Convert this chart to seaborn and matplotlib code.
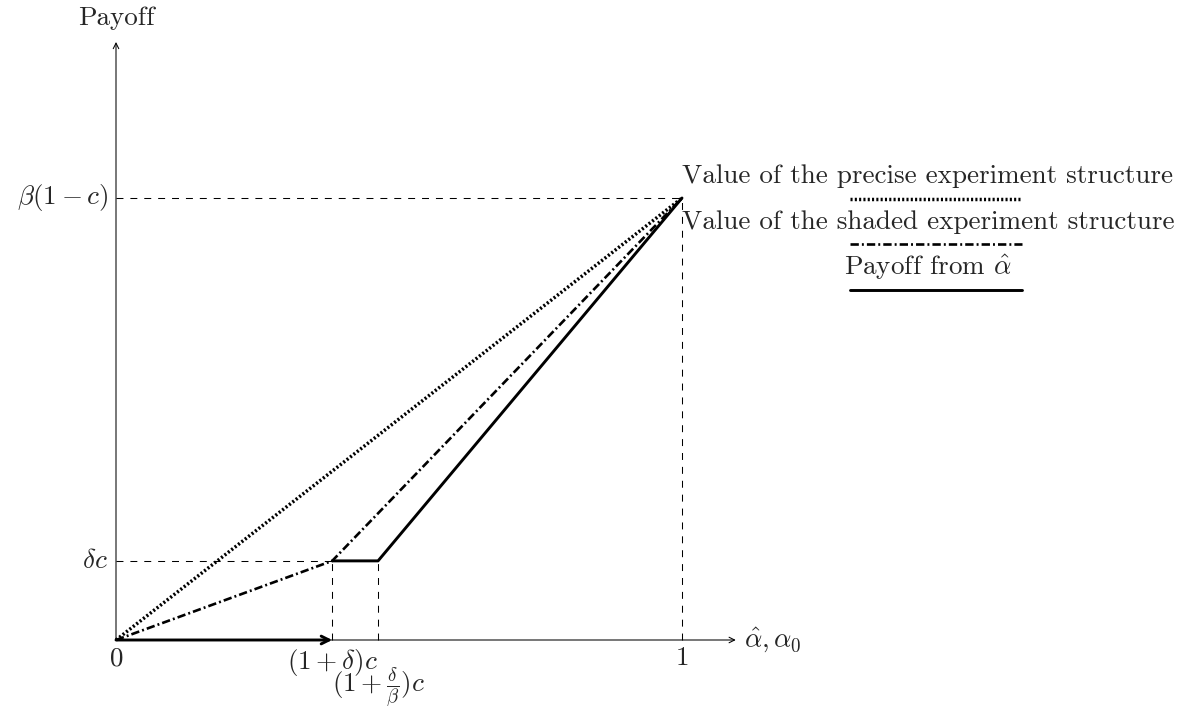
import matplotlib
matplotlib.use("Agg")
import matplotlib.pyplot as plt
import seaborn as sns
import pandas as pd

sns.set_style("white")
plt.rcParams["font.family"] = ["cmr10", "DejaVu Serif"]
plt.rcParams["mathtext.fontset"] = "cm"
plt.rcParams["axes.formatter.use_mathtext"] = True
plt.rcParams["lines.scale_dashes"] = False

# key abscissae / ordinates (normalised: alpha = 1 at right, beta(1-c) = 1 at top)
x_marks = [0.0, 0.382, 0.463, 1.0]
x_labels = ["$0$", "$(1+\\delta)c$", "$(1+\\frac{\\delta}{\\beta})c$", "$1$"]
y_marks = [0.179, 1.0]
y_labels = ["$\\delta c$", "$\\beta(1-c)$"]

# series
precise_x = [0.0, 1.0]
precise_y = [0.0, 1.0]
shaded_x = [0.0, 0.382, 1.0]
shaded_y = [0.0, 0.179, 1.0]
payoff_x = [0.382, 0.463, 1.0]
payoff_y = [0.179, 0.179, 1.0]
payoff_zero_x = [0.0, 0.382]
payoff_zero_y = [0.0, 0.0]

legend_labels = ["Value of the precise experiment structure",
                 "Value of the shaded experiment structure",
                 "Payoff from $\\hat{\\alpha}$"]

W, H = 1187, 706
fig = plt.figure(figsize=(W / 100, H / 100), dpi=100)
ax = fig.add_axes([0, 0, 1, 1])
ox, oy, sx, sy = 116, 640, 566, 442
ax.set_xlim(-ox / sx, (W - ox) / sx)
ax.set_ylim(-(H - oy) / sy, oy / sy)
ax.axis("off")

thin = 0.75
thick = 2.1
k = "black"

# axes with arrows
ax.annotate("", xy=(1.095, 0), xytext=(0, 0),
            arrowprops=dict(arrowstyle="->", lw=thin, color=k, shrinkA=0, shrinkB=0))
ax.annotate("", xy=(0, 1.353), xytext=(0, 0),
            arrowprops=dict(arrowstyle="->", lw=thin, color=k, shrinkA=0, shrinkB=0))

# dashed guides
guide = dict(color=k, lw=thin, dashes=(5, 5))
ax.plot([0, x_marks[3]], [y_marks[1]] * 2, **guide)
ax.plot([0, x_marks[1]], [y_marks[0]] * 2, **guide)
ax.plot([x_marks[1]] * 2, [0, y_marks[0]], **guide)
ax.plot([x_marks[2]] * 2, [0, y_marks[0]], **guide)
ax.plot([x_marks[3]] * 2, [0, y_marks[1]], **guide)

# curves
dotted = (1.5, 1.6)
dashdot = (6, 2.2, 1.4, 2.2)
dot_lw, dd_lw = 2.5, 1.9
sns.lineplot(data=pd.DataFrame({"x": precise_x, "y": precise_y}), x="x", y="y",
             ax=ax, color=k, lw=dot_lw, linestyle=(0, dotted), sort=False)
sns.lineplot(data=pd.DataFrame({"x": shaded_x, "y": shaded_y}), x="x", y="y",
             ax=ax, color=k, lw=dd_lw, linestyle=(0, dashdot), sort=False)
sns.lineplot(data=pd.DataFrame({"x": payoff_x, "y": payoff_y}), x="x", y="y",
             ax=ax, color=k, lw=thick, sort=False)
ax.annotate("", xy=(payoff_zero_x[1], payoff_zero_y[1]),
            xytext=(payoff_zero_x[0], payoff_zero_y[0]),
            arrowprops=dict(arrowstyle="->", lw=thick, color=k, shrinkA=0, shrinkB=0,
                            mutation_scale=14))

fs = 19.5
# tick labels
ax.text(x_marks[0], -0.015, x_labels[0], ha="center", va="top", fontsize=fs)
ax.text(x_marks[1], -0.015, x_labels[1], ha="center", va="top", fontsize=fs)
ax.text(x_marks[2], -0.059, x_labels[2], ha="center", va="top", fontsize=fs)
ax.text(x_marks[3], -0.015, x_labels[3], ha="center", va="top", fontsize=fs)
ax.text(-0.014, y_marks[0], y_labels[0], ha="right", va="center", fontsize=fs)
ax.text(-0.014, y_marks[1], y_labels[1], ha="right", va="center", fontsize=fs)
ax.text(1.11, 0, "$\\hat{\\alpha}, \\alpha_0$", ha="left", va="center", fontsize=fs)
ax.text(0, 1.38, "Payoff", ha="center", va="bottom", fontsize=fs)

# legend drawn as label-over-line entries
tf = fig.transFigure
lx0, lx1 = 850 / W, 1022 / W
entries = [(176, 199, dict(linestyle=(0, dotted), lw=dot_lw)),
           (222, 244, dict(linestyle=(0, dashdot), lw=dd_lw)),
           (267, 290, dict(linestyle="-", lw=thick))]
for label, (ty, ly, style) in zip(legend_labels, entries):
    fig.text(928 / W, 1 - ty / H, label, ha="center", va="center", fontsize=fs)
    fig.add_artist(plt.Line2D([lx0, lx1], [1 - ly / H] * 2, transform=tf, color=k, **style))

fig.savefig("out.png", dpi=100)
